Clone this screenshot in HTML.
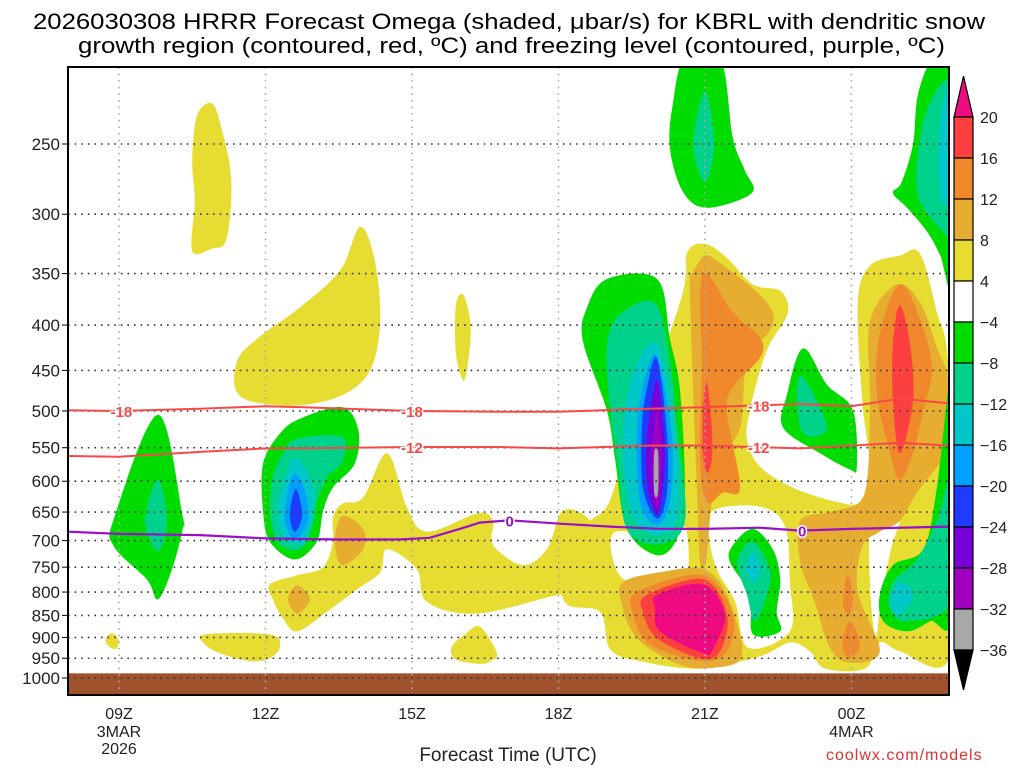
<!DOCTYPE html>
<html><head><meta charset="utf-8"><style>
html,body{margin:0;padding:0;background:#fff;}
svg{display:block;font-family:"Liberation Sans",sans-serif;}
</style></head><body>
<svg id="chart" width="1024" height="768" viewBox="0 0 1024 768" xmlns="http://www.w3.org/2000/svg">
<text x="33" y="29" font-size="22" textLength="952" lengthAdjust="spacingAndGlyphs">2026030308 HRRR Forecast Omega (shaded, μbar/s) for KBRL with dendritic snow</text>
<text x="78" y="53" font-size="22" textLength="867" lengthAdjust="spacingAndGlyphs">growth region (contoured, red, ºC) and freezing level (contoured, purple, ºC)</text>
<defs><clipPath id="plotclip"><rect x="68" y="67" width="881" height="628"/></clipPath></defs>
<g id="shades" clip-path="url(#plotclip)"></g>
<g id="overlay"></g>
</svg>
<script>
// ---- data ----
const pressureTicks = [250,300,350,400,450,500,550,600,650,700,750,800,850,900,950,1000];
const timeTicks = [9,12,15,18,21,24];
const timeLabels = ["09Z","12Z","15Z","18Z","21Z","00Z"];
const dateLabels = {9:["3MAR","2026"],24:["4MAR"]};
const cbLevels = [20,16,12,8,4,-4,-8,-12,-16,-20,-24,-28,-32,-36];
const groundP = 988;
// temperature contours: hours & pressure
const isoHours = [7.96,9,10.66,12,12.71,15,16.8,18,19.87,21,22.95,24,25,25.98];
const isoM18 = [499,500,497,494,495,500,501,501,497,495,491,494,484,490];
const isoM12 = [562,563,556,551,551,549,549,551,547,547,551,547,543,547];
const frzHours = [7.96,9,10.66,12,13.53,14.75,15.36,15.98,16.39,17,18.03,19.06,20.08,21,22.13,22.95,24,25.98];
const frzP = [684,688,690,696,698,698,695,679,668,664,670,675,679,679,677,682,679,675];
const isoM18Labels = [9.05,15,22.1];
const isoM12Labels = [15,22.1];
const frzLabels = [17,22.99];
// shaded omega regions: [[hour,pressure],...]
const yellowRegions = [
 [[10.6,232],[10.9,225],[11.1,240],[11.3,275],[11.2,320],[10.9,328],[10.5,330],[10.55,290],[10.5,260]],
 [[11.42,439],[11.89,412],[12.71,382],[13.53,347],[13.94,310],[14.24,339],[14.35,396],[14.14,450],[13.53,481],[12.5,493],[11.48,481]],
 [[15.9,380],[16.05,370],[16.2,400],[16.15,440],[16.05,462],[15.9,430]],
 [[12.09,784],[12.65,766],[13.18,750],[13.38,702],[13.38,660],[13.57,636],[14.0,626],[14.49,558],[14.9,643],[15.31,684],[16.35,652],[16.66,665],[16.66,708],[17.27,746],[17.77,715],[18.09,648],[18.65,665],[18.85,740],[18.65,810],[18.09,804],[16.35,846],[15.31,821],[15.1,754],[14.49,716],[14.35,760],[13.88,794],[13.26,842],[12.65,886],[12.36,857],[12.15,815]],
 [[18.03,717],[18.65,665],[18.99,641],[19.26,585],[20.49,377],[20.63,332],[21.0,324],[21.45,336],[21.98,360],[22.54,366],[22.7,387],[22.33,420],[22.13,450],[21.92,499],[21.86,539],[22.13,578],[22.8,610],[23.7,633],[24.17,633],[24.38,582],[24.22,486],[24.13,377],[24.38,343],[24.99,334],[25.4,332],[25.75,387],[25.98,439],[26.2,700],[25.98,957],[24.99,933],[24.58,912],[24.28,976],[23.46,976],[23.15,933],[22.74,912],[22.13,945],[20.9,976],[19.67,957],[19.06,928],[18.85,842],[18.13,821]],
 [[8.88,891],[9.0,909],[8.92,928],[8.75,916],[8.75,898]],
 [[10.76,893],[12.09,893],[12.3,921],[12.09,950],[11.68,957],[11.07,938],[10.76,916]],
 [[16.39,875],[16.74,938],[16.6,957],[16.39,964],[15.88,952],[15.82,921],[16.09,893]]
];
const whiteHoles = [
 [[19.15,685],[19.87,690],[20.4,685],[20.62,680],[20.62,769],[20.08,790],[19.36,776],[19.1,730]],
 [[21.16,648],[22.13,641],[22.64,675],[22.74,780],[22.74,886],[21.88,924],[21.62,821],[21.27,760],[21.1,702]],
 [[24.42,625],[24.75,600],[25.05,640],[24.8,720],[24.6,821],[24.5,900],[24.4,821],[24.36,702]]
];
const orange8Regions = [
 [[13.57,657],[14.0,679],[14.0,716],[13.57,746],[13.42,702]],
 [[12.65,786],[12.91,815],[12.65,846],[12.46,815]],
 [[21.0,334],[21.25,339],[21.72,354],[22.13,370],[22.39,387],[22.33,406],[21.86,439],[21.72,522],[21.31,567],[21.14,633],[21.02,740],[20.9,740],[20.84,618],[20.76,479],[20.69,357],[20.73,350]],
 [[24.38,396],[24.93,360],[25.4,377],[25.75,424],[25.98,462],[25.98,549],[25.71,582],[25.34,618],[24.99,665],[24.58,684],[24.22,711],[24.13,800],[24.58,933],[23.97,961],[23.56,926],[23.25,821],[22.95,740],[22.95,665],[23.56,650],[24.17,633],[24.34,582],[24.38,483]],
 [[19.32,780],[20.08,760],[20.96,754],[21.45,806],[21.76,941],[21.16,974],[20.43,964],[19.61,902],[19.3,827]]
];
const orange12Regions = [
 [[21.04,350],[21.57,387],[22.13,414],[22.13,435],[21.57,470],[21.45,503],[21.72,610],[21.37,618],[21.04,633],[20.9,567],[20.94,439],[20.9,370]],
 [[24.58,409],[24.99,360],[25.4,393],[25.65,447],[25.47,499],[25.26,558],[24.99,598],[24.79,558],[24.52,478]],
 [[23.91,766],[24.03,806],[23.97,848],[23.83,827]],
 [[23.97,863],[24.17,916],[23.97,950],[23.81,916]],
 [[19.61,800],[20.96,766],[21.57,848],[21.45,933],[20.9,957],[19.87,916],[19.53,848]]
];
const redRegions = [
 [[21.04,465],[21.14,522],[21.14,567],[21.04,587],[20.96,558],[20.96,499]],
 [[24.99,380],[25.2,420],[25.26,486],[24.99,558],[24.85,486],[24.85,420]],
 [[19.81,806],[20.96,774],[21.45,848],[21.31,933],[20.9,950],[20.02,902],[19.73,842]]
];
const pinkRegions = [
 [[20.02,806],[20.96,784],[21.41,848],[21.16,928],[20.96,938],[20.08,886],[19.98,835]]
];
const greenRegions = [
 [[9.8,505],[10.31,660],[10.31,677],[10.1,750],[9.8,815],[9.57,774],[8.9,711],[8.9,660]],
 [[13.57,495],[13.9,525],[13.83,573],[13.38,610],[13.18,648],[13.05,702],[12.6,735],[12.09,702],[11.95,648],[11.95,573],[12.3,530],[12.71,510]],
 [[20.59,200],[21.31,200],[21.57,246],[21.82,268],[21.96,284],[21.04,295],[20.55,283],[20.28,252],[20.35,224]],
 [[25.67,200],[26.1,200],[26.1,360],[25.81,333],[25.55,314],[25.14,295],[24.85,284],[25.03,276],[25.26,250],[25.36,220]],
 [[18.99,355],[20.02,355],[20.28,414],[20.49,475],[20.59,618],[20.43,696],[20.02,727],[19.4,679],[19.16,567],[18.99,499],[18.5,417],[18.58,383]],
 [[21.98,679],[22.39,716],[22.54,774],[22.47,842],[22.54,886],[21.98,892],[21.92,806],[21.51,740],[21.57,709]],
 [[23.01,425],[23.5,467],[24.03,499],[24.11,578],[23.97,582],[23.36,558],[22.6,522],[22.68,479]],
 [[26.1,440],[25.75,610],[25.47,716],[24.85,746],[24.58,806],[24.65,863],[25.14,886],[25.61,863],[26.1,835]]
];
const tealRegions = [
 [[9.8,598],[9.98,665],[9.8,720],[9.53,665]],
 [[12.65,537],[13.57,535],[13.57,571],[13.26,594],[13.01,643],[12.85,702],[12.6,717],[12.24,702],[12.09,648],[12.15,594],[12.36,558]],
 [[21.0,218],[21.19,250],[21.0,276],[20.76,250]],
 [[26.1,205],[25.98,211],[25.75,217],[25.44,240],[25.36,286],[25.98,319],[26.1,330]],
 [[19.98,378],[20.28,439],[20.43,522],[20.59,666],[20.02,707],[19.4,679],[19.22,578],[19.06,499],[18.99,424],[19.26,389]],
 [[21.98,702],[22.33,754],[22.27,806],[22.02,863],[21.86,806],[21.66,740]],
 [[23.01,458],[23.5,522],[23.01,530],[22.88,479]],
 [[26.1,580],[25.75,665],[25.34,735],[24.85,780],[24.79,835],[25.14,863],[26.1,810]]
];
const cyanRegions = [
 [[12.6,564],[12.91,594],[13.01,648],[12.85,698],[12.6,707],[12.34,690],[12.24,643],[12.4,594]],
 [[26.1,211],[25.98,213],[25.81,240],[25.81,283],[25.98,295],[26.1,300]],
 [[20.02,420],[20.39,522],[20.45,654],[20.02,690],[19.51,654],[19.32,543],[19.53,454]],
 [[21.98,721],[22.15,754],[21.98,780],[21.84,754]],
 [[24.99,780],[25.26,806],[24.99,848],[24.79,821]]
];
const ltBlueRegions = [
 [[12.6,588],[12.81,615],[12.87,665],[12.6,698],[12.4,665],[12.46,615]],
 [[20.02,435],[20.33,539],[20.28,633],[20.02,672],[19.67,633],[19.61,522],[19.77,459]]
];
const blueRegions = [
 [[12.62,612],[12.75,654],[12.6,684],[12.5,654]],
 [[20.02,436],[20.22,530],[20.22,618],[20.02,661],[19.73,610],[19.71,522],[19.81,472]]
];
const purpleRegions = [
 [[20.02,462],[20.18,549],[20.12,618],[20.02,654],[19.83,610],[19.81,539]]
];
const magentaRegions = [
 [[20.02,496],[20.1,567],[20.06,633],[19.98,633],[19.92,567]]
];
const grayRegions = [
 [[19.96,557],[20.04,557],[20.04,618],[19.96,618]]
];
// ---- axes ----
const X0=68, X1=949, YT=67, YB=695;
function xOf(h){return 119+(h-9)*48.83;}
function yOf(p){return 144+385.2*Math.log(p/250);}
const NS="http://www.w3.org/2000/svg";
const shades=document.getElementById('shades');
const ov=document.getElementById('overlay');
function mk(tag,attrs,parent){const e=document.createElementNS(NS,tag);for(const k in attrs)e.setAttribute(k,attrs[k]);parent.appendChild(e);return e;}
function smoothPath(pts){
 const P=pts.map(q=>[xOf(q[0]),yOf(q[1])]);const n=P.length;let d=`M${P[0][0].toFixed(1)},${P[0][1].toFixed(1)}`;
 for(let i=0;i<n;i++){const p0=P[(i-1+n)%n],p1=P[i],p2=P[(i+1)%n],p3=P[(i+2)%n];
  const c1=[p1[0]+(p2[0]-p0[0])/6,p1[1]+(p2[1]-p0[1])/6],c2=[p2[0]-(p3[0]-p1[0])/6,p2[1]-(p3[1]-p1[1])/6];
  d+=`C${c1[0].toFixed(1)},${c1[1].toFixed(1)} ${c2[0].toFixed(1)},${c2[1].toFixed(1)} ${p2[0].toFixed(1)},${p2[1].toFixed(1)}`;}
 return d+'Z';}
const layers=[
 [yellowRegions,'#e6dc32','omega-4-8'],[whiteHoles,'#ffffff','omega-neutral'],
 [orange8Regions,'#e6ad30','omega-8-12'],[orange12Regions,'#f0882c','omega-12-16'],
 [redRegions,'#fc4040','omega-16-20'],[pinkRegions,'#ee0a80','omega-gt-20'],
 [greenRegions,'#00dc00','omega-m4-m8'],[tealRegions,'#00d28c','omega-m8-m12'],
 [cyanRegions,'#00c8c8','omega-m12-m16'],[ltBlueRegions,'#00a0ff','omega-m16-m20'],
 [blueRegions,'#1e3cff','omega-m20-m24'],[purpleRegions,'#7800d8','omega-m24-m28'],
 [magentaRegions,'#a000c0','omega-m28-m32'],[grayRegions,'#a8a8a8','omega-m32-m36']];
layers.forEach(L=>{L[0].forEach(r=>{const e=mk('path',{d:smoothPath(r),fill:L[1]},shades);
 
 });});
// ground
const g=mk('rect',{x:X0,y:yOf(groundP),width:X1-X0,height:YB-yOf(groundP),fill:'#a0522d'},shades);


// grid
pressureTicks.forEach((p,i)=>{const y=yOf(p);
 const l=mk('line',{x1:X0,x2:X1,y1:y,y2:y,stroke:'#333','stroke-width':1.6,'stroke-dasharray':'1.6 5'},ov);
 
 
 const tk=mk('line',{x1:X0-6,x2:X0,y1:y,y2:y,stroke:'#000','stroke-width':1},ov);
 
 
 const t=mk('text',{x:X0-8,y:y+6,'font-size':17,'text-anchor':'end',fill:'#222'},ov);t.textContent=p;
 
 });
timeTicks.forEach((h,i)=>{const x=xOf(h);
 const l=mk('line',{x1:x,x2:x,y1:YT,y2:YB,stroke:'#aaa','stroke-width':1.6,'stroke-dasharray':'1.6 5'},ov);
 
 
 const t=mk('text',{x:x,y:719,'font-size':16,'text-anchor':'middle',fill:'#222'},ov);t.textContent=timeLabels[i];
 
 
 (dateLabels[h]||[]).forEach((s,j)=>{const d=mk('text',{x:x,y:737+j*17,'font-size':16,'text-anchor':'middle',fill:'#222'},ov);d.textContent=s;
  
  });});
// contour lines
function line(hs,ps,color,w,name){const d=hs.map((h,i)=>(i?'L':'M')+xOf(h).toFixed(1)+','+yOf(ps[i]).toFixed(1)).join('');
 const e=mk('path',{d:d,fill:'none',stroke:color,'stroke-width':w},ov);
 
 }
function interp(hs,ps,h){for(let i=0;i<hs.length-1;i++){if(h>=hs[i]&&h<=hs[i+1]){const f=(h-hs[i])/(hs[i+1]-hs[i]);return ps[i]+f*(ps[i+1]-ps[i]);}}return ps[ps.length-1];}
function label(hs,ps,h,txt,color,name){const x=xOf(h),y=yOf(interp(hs,ps,h));
 const t=mk('text',{x:x,y:y+6,'font-size':15,'font-weight':'bold','text-anchor':'middle',fill:color,stroke:'#fff','stroke-width':3,'paint-order':'stroke'},ov);t.textContent=txt;
 
 }
line(isoHours,isoM18,'#f84848',2,'isotherm-minus18');
line(isoHours,isoM12,'#f84848',2,'isotherm-minus12');
line(frzHours,frzP,'#9a10c8',2.2,'freezing-level-line');
isoM18Labels.forEach(h=>label(isoHours,isoM18,h,'-18','#f84848','isotherm-label'));
isoM12Labels.forEach(h=>label(isoHours,isoM12,h,'-12','#f84848','isotherm-label'));
frzLabels.forEach(h=>label(frzHours,frzP,h,'0','#9a10c8','freezing-label'));
// frame
const fr=mk('rect',{x:X0,y:YT,width:X1-X0,height:YB-YT,fill:'none',stroke:'#000','stroke-width':2},ov);


// colorbar
const cbColors=['#fc4040','#f0882c','#e6ad30','#e6dc32','#ffffff','#00dc00','#00d28c','#00c8c8','#00a0ff','#1e3cff','#7800d8','#a000c0','#a8a8a8'];
const CBX=954,CBW=19,CBT=117,CBS=41;
const tipT=mk('polygon',{points:`${CBX},${CBT} ${CBX+CBW},${CBT} ${CBX+CBW/2},${CBT-41}`,fill:'#ee0a80',stroke:'#000','stroke-width':1.2},ov);


cbColors.forEach((c,i)=>{const r=mk('rect',{x:CBX,y:CBT+i*CBS,width:CBW,height:CBS,fill:c,stroke:'#000','stroke-width':1.2},ov);
 
 });
const yEnd=CBT+cbColors.length*CBS;
const tipB=mk('polygon',{points:`${CBX},${yEnd} ${CBX+CBW},${yEnd} ${CBX+CBW/2},${yEnd+40}`,fill:'#000',stroke:'#000','stroke-width':1.2},ov);


cbLevels.forEach((v,i)=>{const t=mk('text',{x:980,y:CBT+i*CBS+6,'font-size':16,fill:'#222'},ov);t.textContent=(v<0?'\u2212'+(-v):v);
 
 });
</script>
<div style="position:absolute;left:0;top:0;width:1024px;height:768px;pointer-events:none;">
<div style="position:absolute;left:398px;top:745px;width:220px;text-align:center;font:19px 'Liberation Sans',sans-serif;color:#222;">Forecast Time (UTC)</div>
<div style="position:absolute;left:826px;top:747px;font:16px 'Liberation Sans',sans-serif;color:#e03030;letter-spacing:1px;">coolwx.com/models</div>
</div>
</body></html>
